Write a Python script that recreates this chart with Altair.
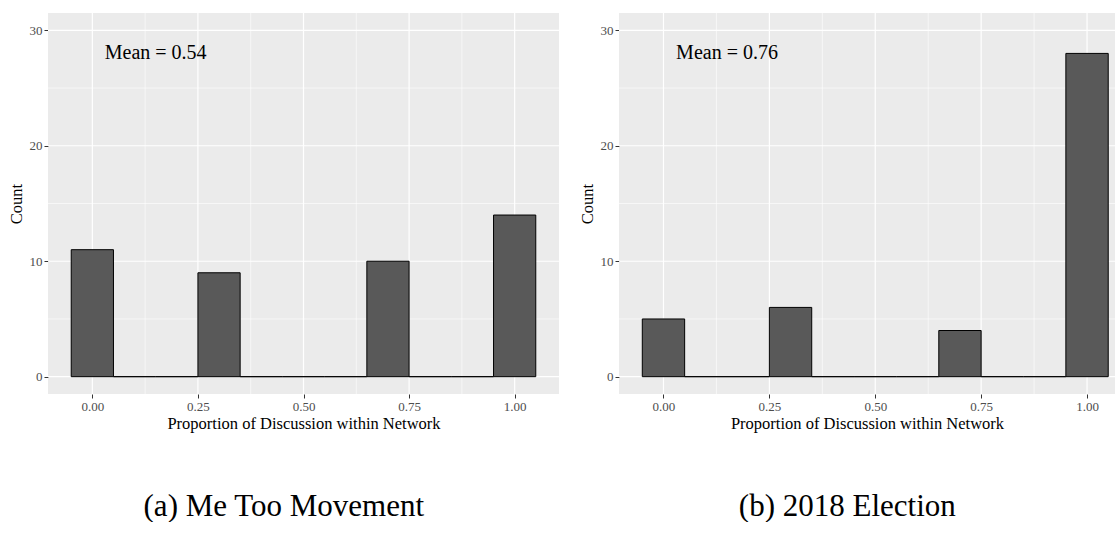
import altair as alt
import pandas as pd

# ---- data ----
bin_centers = [0.0, 0.1, 0.2, 0.3, 0.4, 0.5, 0.6, 0.7, 0.8, 0.9, 1.0]
binwidth = 0.1
metoo_counts = [11, 0, 0, 9, 0, 0, 0, 10, 0, 0, 14]
election_counts = [5, 0, 0, 6, 0, 0, 0, 4, 0, 0, 28]
mean_labels = ["Mean = 0.54", "Mean = 0.76"]
captions = ["(a) Me Too Movement", "(b) 2018 Election"]
x_major = [0.0, 0.25, 0.5, 0.75, 1.0]
x_minor = [0.125, 0.375, 0.625, 0.875]
y_major = [0, 10, 20, 30]
y_minor = [5, 15, 25]
mean_x = 0.15
mean_y = 28

SERIF = "Liberation Serif"


def panel(counts, mean_label, caption, xdomain, width):
    df = pd.DataFrame({
        "lo": [c - binwidth / 2 for c in bin_centers],
        "hi": [c + binwidth / 2 for c in bin_centers],
        "count": counts,
    })
    xs = alt.Scale(domain=xdomain, nice=False, zero=False)
    ys = alt.Scale(domain=[-1.5, 31.5], nice=False, zero=False)
    xaxis = alt.Axis(values=x_major, format=".2f", title="Proportion of Discussion within Network",
                     grid=False, titlePadding=2)
    yaxis = alt.Axis(values=y_major, title="Count", grid=False, titlePadding=5)

    minor_x = alt.Chart(pd.DataFrame({"v": x_minor})).mark_rule(color="white", strokeWidth=0.6).encode(
        x=alt.X("v:Q", scale=xs, axis=xaxis))
    major_x = alt.Chart(pd.DataFrame({"v": x_major})).mark_rule(color="white", strokeWidth=1.2).encode(
        x=alt.X("v:Q", scale=xs, axis=xaxis))
    minor_y = alt.Chart(pd.DataFrame({"v": y_minor})).mark_rule(color="white", strokeWidth=0.6).encode(
        y=alt.Y("v:Q", scale=ys, axis=yaxis))
    major_y = alt.Chart(pd.DataFrame({"v": y_major})).mark_rule(color="white", strokeWidth=1.2).encode(
        y=alt.Y("v:Q", scale=ys, axis=yaxis))
    bars = alt.Chart(df).mark_rect(fill="#595959", stroke="black", strokeWidth=1, clip=True).encode(
        x=alt.X("lo:Q", scale=xs, axis=xaxis),
        x2="hi:Q",
        y=alt.Y("count:Q", scale=ys, axis=yaxis),
        y2=alt.datum(0),
    )
    txt = alt.Chart(pd.DataFrame({"x": [mean_x], "y": [mean_y], "t": [mean_label]})).mark_text(
        font=SERIF, fontSize=20, color="black").encode(
        x=alt.X("x:Q", scale=xs, axis=xaxis),
        y=alt.Y("y:Q", scale=ys, axis=yaxis),
        text="t:N",
    )
    return alt.layer(minor_x, major_x, minor_y, major_y, bars, txt).properties(
        width=width, height=381,
        title=alt.TitleParams(text=caption, orient="bottom", anchor="middle", frame="bounds", offset=60,
                              fontSize=31, font=SERIF, fontWeight="normal", color="black"),
    )


left = panel(metoo_counts, mean_labels[0], captions[0], [-0.105, 1.105], 511)
right = panel(election_counts, mean_labels[1], captions[1], [-0.105, 1.066], 496)

chart = alt.hconcat(left, right, spacing=19).properties(
    padding={"left": 8, "top": 12, "right": 0, "bottom": 0},
    background="white",
).configure_view(fill="#EBEBEB", strokeWidth=0).configure_axis(
    labelFont=SERIF, labelFontSize=13, labelColor="#4D4D4D",
    tickColor="#333333", tickSize=4, tickWidth=1, domain=False,
    titleFont=SERIF, titleFontSize=16.5, titleColor="black", titleFontWeight="normal",
    labelPadding=2,
)

chart.save("out.html", embed_options={"renderer": "svg", "actions": False})
